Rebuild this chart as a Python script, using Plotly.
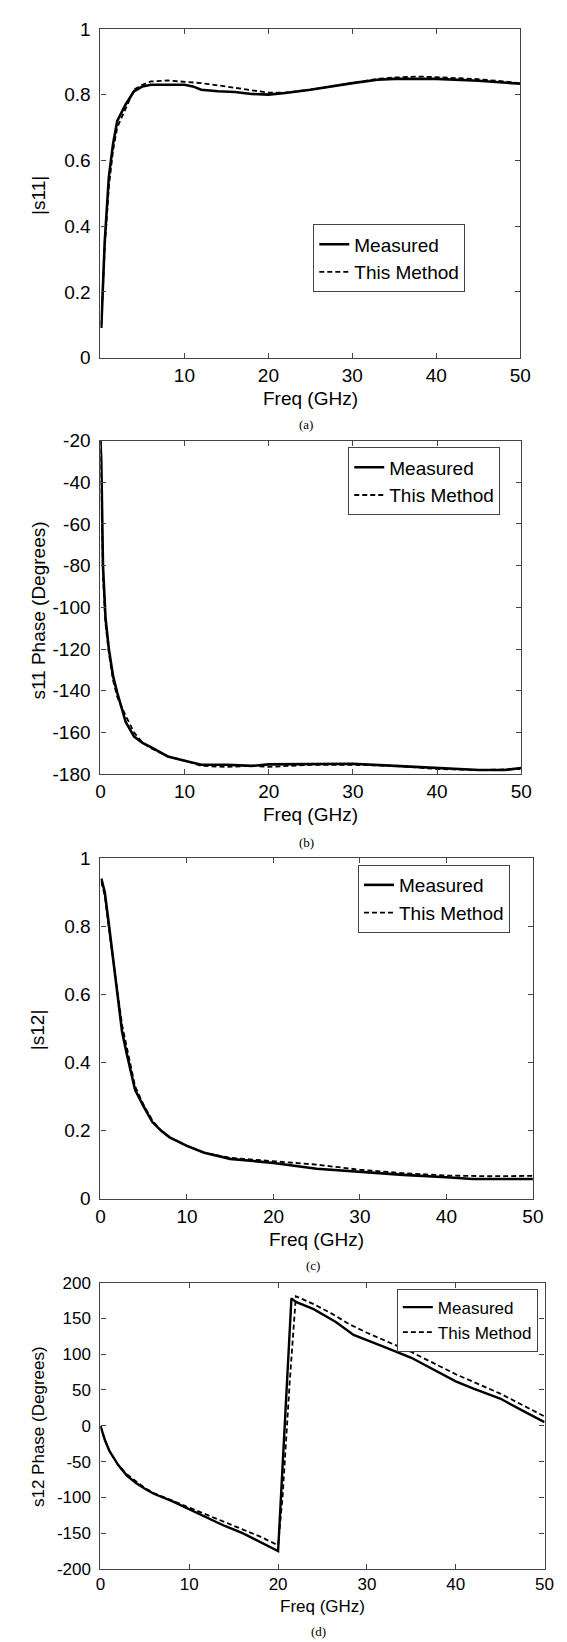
import plotly.graph_objects as go

W, H = 567, 1642

# ---------- data ----------
# (a) |s11|
a_meas_x = [0.1, 0.5, 1, 1.5, 2, 3, 4, 5, 6, 8, 10, 11, 12, 14, 16, 18, 20, 22, 25, 30, 33, 35, 40, 45, 48, 50]
a_meas_y = [0.09, 0.35, 0.55, 0.65, 0.72, 0.77, 0.81, 0.825, 0.83, 0.83, 0.83, 0.825, 0.815, 0.81, 0.808, 0.802, 0.80, 0.805, 0.815, 0.835, 0.845, 0.848, 0.848, 0.842, 0.836, 0.833]
a_mod_x = [0.1, 0.5, 1, 1.5, 2, 3, 4, 5, 6, 8, 10, 12, 14, 16, 18, 20, 22, 25, 30, 33, 35, 38, 40, 45, 48, 50]
a_mod_y = [0.10, 0.33, 0.52, 0.63, 0.70, 0.76, 0.815, 0.83, 0.84, 0.843, 0.84, 0.835, 0.828, 0.82, 0.812, 0.806, 0.806, 0.815, 0.835, 0.848, 0.852, 0.855, 0.853, 0.847, 0.84, 0.835]

# (b) s11 phase
b_meas_x = [0, 0.1, 0.3, 0.6, 1, 1.5, 2, 3, 4, 5, 6, 8, 10, 12, 15, 18, 20, 25, 30, 35, 40, 45, 48, 50]
b_meas_y = [-20, -30, -80, -105, -120, -133, -141, -155, -162, -165, -167, -171.5, -173.5, -175.5, -175.5, -176, -175.3, -175, -175, -176, -177, -178, -178, -177]
b_mod_x = [0, 0.1, 0.3, 0.6, 1, 1.5, 2, 3, 4, 5, 6, 8, 10, 12, 15, 18, 20, 25, 30, 35, 40, 45, 50]
b_mod_y = [-20, -40, -85, -108, -122, -135, -143, -152, -160, -165, -167.5, -171.5, -173.5, -176, -176.5, -176, -176.5, -175.5, -175.5, -176, -177.5, -178, -177.5]

# (c) |s12|
c_meas_x = [0.1, 0.5, 1, 1.5, 2, 2.5, 3, 4, 5, 6, 7, 8, 10, 12, 15, 20, 25, 30, 35, 40, 43, 45, 50]
c_meas_y = [0.94, 0.90, 0.80, 0.70, 0.60, 0.49, 0.43, 0.32, 0.27, 0.225, 0.20, 0.18, 0.155, 0.135, 0.117, 0.105, 0.088, 0.078, 0.07, 0.063, 0.058, 0.058, 0.058]
c_mod_x = [0.1, 0.5, 1, 1.5, 2, 2.5, 3, 4, 5, 6, 7, 8, 10, 12, 15, 20, 25, 30, 35, 40, 45, 50]
c_mod_y = [0.93, 0.89, 0.79, 0.70, 0.61, 0.51, 0.45, 0.33, 0.275, 0.23, 0.20, 0.18, 0.155, 0.135, 0.12, 0.11, 0.10, 0.085, 0.075, 0.068, 0.066, 0.067]

# (d) s12 phase
d_meas_x = [0, 0.5, 1, 2, 3, 4, 5, 6, 8, 10, 12, 14, 16, 18, 20, 21.5, 22, 24, 26.5, 28.5, 30, 32, 35, 38, 40, 42, 45, 48, 50]
d_meas_y = [0, -20, -35, -55, -70, -80, -88, -95, -105, -117, -128, -140, -150, -163, -175, 178, 173, 163, 145, 127, 120, 110, 95, 75, 62, 52, 38, 18, 5]
d_mod_x = [0, 0.5, 1, 2, 3, 4, 5, 6, 8, 10, 12, 14, 16, 18, 20, 20.5, 21.3, 22, 24, 26, 28, 30, 35, 40, 45, 50]
d_mod_y = [0, -20, -35, -55, -68, -78, -87, -94, -104, -115, -125, -135, -145, -155, -167, -100, 60, 181, 170, 157, 142, 130, 103, 72, 45, 13]

series_names = ["Measured", "This Method"]
captions = ["(a)", "(b)", "(c)", "(d)"]
ytitles = ["|s11|", "s11 Phase (Degrees)", "|s12|", "s12 Phase (Degrees)"]
xtitle = "Freq (GHz)"

# ---------- layout geometry (pixels) ----------
panels = [
    dict(l=90, r=522, t=11, b=344, yr=[0, 1], dy=0.2, xt=[10, 20, 30, 40, 50], fs=19,
         leg=(309, 209), cap_y=412, xl_y=385, yt_y=180, mw=2.6),
    dict(l=90, r=523, t=428, b=766, yr=[-180, -20], dy=20, xt=[0, 10, 20, 30, 40, 50], fs=19,
         leg=(345, 435), cap_y=835, xl_y=807, yt_y=600, mw=2.6),
    dict(l=90, r=535, t=851, b=1196, yr=[0, 1], dy=0.2, xt=[0, 10, 20, 30, 40, 50], fs=19,
         leg=(355, 858), cap_y=1264, xl_y=1237, yt_y=1025, mw=2.6),
    dict(l=90, r=547, t=1281, b=1571, yr=[-200, 200], dy=50, xt=[0, 10, 20, 30, 40, 50], fs=17,
         leg=(395, 1287), cap_y=1634, xl_y=1609, yt_y=1427, mw=2.4),
]
data = [
    (a_meas_x, a_meas_y, a_mod_x, a_mod_y),
    (b_meas_x, b_meas_y, b_mod_x, b_mod_y),
    (c_meas_x, c_meas_y, c_mod_x, c_mod_y),
    (d_meas_x, d_meas_y, d_mod_x, d_mod_y),
]

FONT = "Liberation Sans, Arial, sans-serif"
AXC = "#444444"

fig = go.Figure()
annotations = []
layout = dict(width=W, height=H, margin=dict(l=0, r=0, t=0, b=0),
              paper_bgcolor="white", plot_bgcolor="white", showlegend=True,
              font=dict(family=FONT, color="black"))

for i, (p, (mx, my, tx, ty)) in enumerate(zip(panels, data)):
    n = "" if i == 0 else str(i + 1)
    legname = "legend" + n
    fig.add_trace(go.Scatter(x=mx, y=my, mode="lines", name=series_names[0],
                             line=dict(color="black", width=p["mw"]),
                             xaxis="x" + n, yaxis="y" + n, legend=legname))
    fig.add_trace(go.Scatter(x=tx, y=ty, mode="lines", name=series_names[1],
                             line=dict(color="black", width=1.8, dash="5px,3px"),
                             xaxis="x" + n, yaxis="y" + n, legend=legname))
    axcommon = dict(showline=True, linecolor=AXC, linewidth=1.2, mirror="ticks",
                    ticks="inside", ticklen=5, tickcolor=AXC, showgrid=False,
                    zeroline=False, tickfont=dict(family=FONT, size=p["fs"], color="black"))
    layout["xaxis" + n] = dict(domain=[p["l"] / W, p["r"] / W], range=[0, 50],
                               tickvals=p["xt"], anchor="y" + n, ticklabelstandoff=0, **axcommon)
    yv = []
    v = p["yr"][0]
    while v <= p["yr"][1] + 1e-9:
        yv.append(round(v, 6))
        v += p["dy"]
    layout["yaxis" + n] = dict(domain=[1 - p["b"] / H, 1 - p["t"] / H], range=p["yr"],
                               tickvals=yv, ticktext=[("%g" % t) for t in yv],
                               anchor="x" + n, ticklabelstandoff=5, **axcommon)
    layout[legname] = dict(x=p["leg"][0] / W, y=1 - p["leg"][1] / H, xanchor="left", yanchor="top",
                           bgcolor="white", bordercolor=AXC, borderwidth=1,
                           font=dict(family=FONT, size=p["fs"], color="black"),
                           tracegroupgap=0, itemwidth=30)
    cx = (p["l"] + p["r"]) / 2
    annotations.append(dict(text=xtitle, x=cx / W, y=1 - p["xl_y"] / H, xref="paper", yref="paper",
                            showarrow=False, xanchor="center", yanchor="middle",
                            font=dict(family=FONT, size=p["fs"], color="black")))
    annotations.append(dict(text=ytitles[i], x=26 / W, y=1 - p["yt_y"] / H, xref="paper", yref="paper",
                            showarrow=False, xanchor="center", yanchor="middle", textangle=-90,
                            font=dict(family=FONT, size=p["fs"], color="black")))
    annotations.append(dict(text=captions[i], x=(cx - 4) / W, y=1 - p["cap_y"] / H, xref="paper", yref="paper",
                            showarrow=False, xanchor="center", yanchor="middle",
                            font=dict(family="Liberation Serif, Times New Roman, serif", size=13, color="black")))

layout["annotations"] = annotations
fig.update_layout(**layout)
fig.write_html("out.html")
